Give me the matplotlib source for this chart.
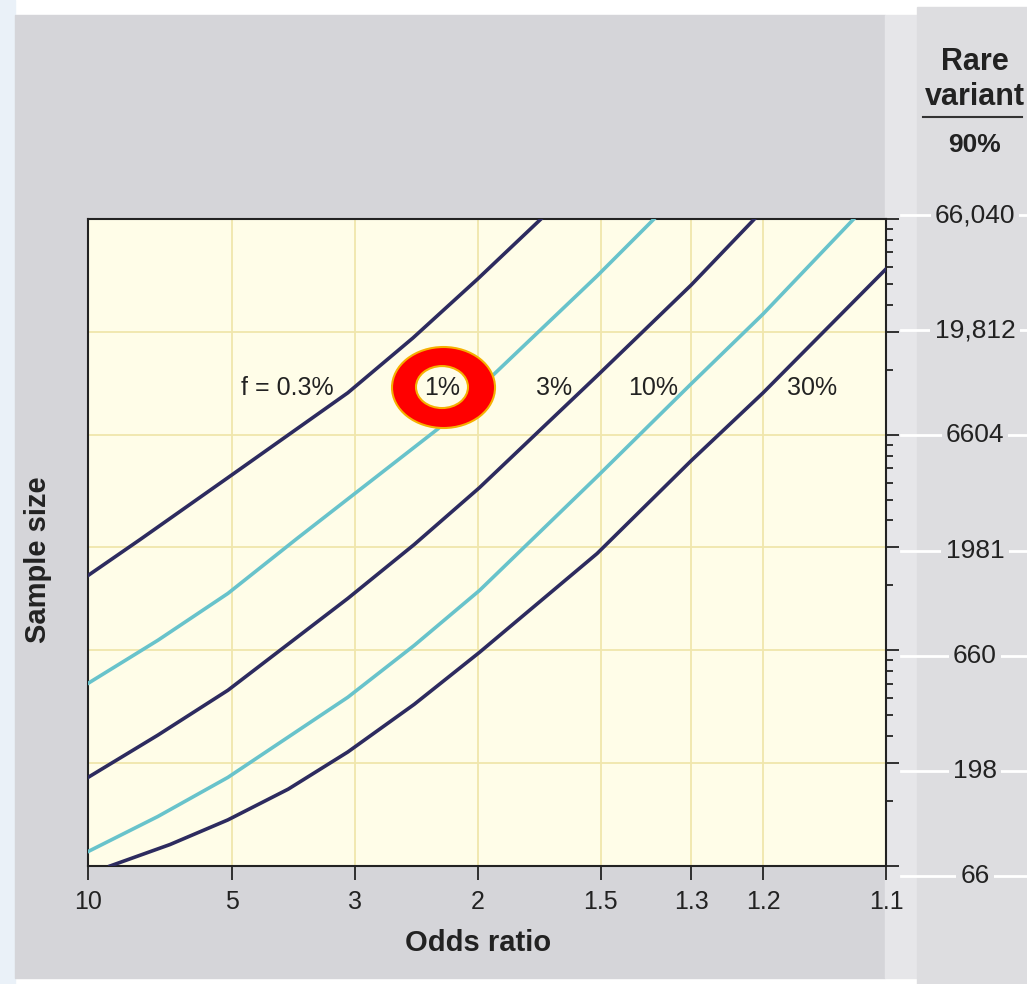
import numpy as np
import matplotlib.pyplot as plt
from matplotlib.patches import Ellipse, Rectangle
from matplotlib.lines import Line2D
from matplotlib.ticker import FixedLocator, NullFormatter

plt.rcParams['font.family'] = ['Liberation Sans', 'DejaVu Sans']

# curves: odds ratio vs sample size
or_03 = [10.0, 7.71, 5.09, 3.08, 2.44, 2.0, 1.70]
n_03 = [1468, 2155, 4171, 10325, 18559, 34822, 66040]
or_1 = [10.0, 7.07, 5.09, 3.77, 2.25, 1.91, 1.51, 1.37]
n_1 = [464, 735, 1212, 2178, 7036, 12648, 35944, 66040]
or_3 = [10.0, 7.07, 5.09, 3.08, 2.43, 1.99, 1.51, 1.30, 1.21]
n_3 = [170, 267, 431, 1149, 2044, 3750, 12377, 32644, 66040]
or_10 = [10.0, 7.07, 5.09, 3.08, 2.43, 1.99, 1.51, 1.30, 1.20, 1.12]
n_10 = [77, 112, 170, 400, 696, 1251, 4217, 11366, 23960, 66040]
or_30 = [8.95, 6.67, 5.09, 3.91, 3.08, 2.43, 1.99, 1.51, 1.30, 1.20, 1.1]
n_30 = [66, 83, 108, 150, 223, 371, 646, 1856, 5002, 10325, 38740]

curve_labels = ['f = 0.3%', '1%', '3%', '10%', '30%']
label_or = [3.93, 2.22, 1.65, 1.372, 1.152]
label_n = 10900

x_ticks = [10, 5, 3, 2, 1.5, 1.3, 1.2, 1.1]
x_labels = ['10', '5', '3', '2', '1.5', '1.3', '1.2', '1.1']
y_ticks = [66040, 19812, 6604, 1981, 660, 198, 66]
y_labels = ['66,040', '19,812', '6604', '1981', '660', '198', '66']

navy = '#2D2B5F'
cyan = '#68C3CB'
txt = '#222222'


def fwd(x):
    return np.log10(np.maximum(np.asarray(x, dtype=float) - 1, 1e-6))


def inv(x):
    return 10 ** np.asarray(x, dtype=float) + 1


fig = plt.figure(figsize=(10.27, 9.84), dpi=100)
fig.patch.set_facecolor('white')

# background panels
fig.add_artist(Rectangle((0, 0), 0.0146, 1, transform=fig.transFigure,
                         color='#EAF1F8', zorder=-5))
fig.add_artist(Rectangle((0.0146, 0.0061), 0.8471, 0.9787, transform=fig.transFigure,
                         color='#D5D5D9', zorder=-5))
fig.add_artist(Rectangle((0.8617, 0.0061), 0.0312, 0.9787, transform=fig.transFigure,
                         color='#E6E6E9', zorder=-5))
fig.add_artist(Rectangle((0.8929, 0), 0.1071, 0.9929, transform=fig.transFigure,
                         color='#DDDDE0', zorder=-5))

ax = fig.add_axes([0.0857, 0.1199, 0.7770, 0.6575])
ax.set_facecolor('#FFFDE8')
ax.set_yscale('log')
ax.set_xscale('function', functions=(fwd, inv))
ax.set_xlim(10, 1.1)
ax.set_ylim(66, 66040)

ax.plot(or_03, n_03, color=navy, lw=2.6, zorder=3)
ax.plot(or_1, n_1, color=cyan, lw=2.6, zorder=3)
ax.plot(or_3, n_3, color=navy, lw=2.6, zorder=3)
ax.plot(or_10, n_10, color=cyan, lw=2.6, zorder=3)
ax.plot(or_30, n_30, color=navy, lw=2.6, zorder=3)

ax.set_xticks(x_ticks)
ax.set_xticklabels(x_labels)
ax.xaxis.set_minor_locator(FixedLocator([]))

ax.yaxis.tick_right()
ax.set_yticks(y_ticks)
ax.set_yticklabels([])
minor = [66.04 * k * 10 ** n for n in range(3) for k in (2, 4, 5, 6, 7, 8, 9)]
ax.yaxis.set_minor_locator(FixedLocator(minor))
ax.yaxis.set_minor_formatter(NullFormatter())

ax.grid(True, which='major', color='#F0E6AC', lw=1.3)
ax.set_axisbelow(True)

ax.tick_params(axis='x', which='major', length=10, width=1.3, color=txt,
               labelsize=18, labelcolor=txt, pad=7)
ax.tick_params(axis='y', which='major', length=9, width=1.3, color=txt)
ax.tick_params(axis='y', which='minor', length=5, width=1.3, color=txt)
for s in ax.spines.values():
    s.set_linewidth(1.5)
    s.set_color(txt)

ax.set_xlabel('Odds ratio', fontsize=21, fontweight='bold', color=txt)
ax.xaxis.set_label_coords(0.489, -0.097)
ax.set_ylabel('Sample size', fontsize=21, fontweight='bold', color=txt)
ax.yaxis.set_label_position('left')
ax.yaxis.set_label_coords(-0.045, 0.473)

# curve labels
for lab, xo in zip(curve_labels, label_or):
    ax.text(xo, label_n, lab, fontsize=18, color=txt, ha='center', va='center', zorder=6)

# red ring around the 1% label
ax.add_patch(Ellipse((0.4455, 0.7396), 0.1291, 0.1252, transform=ax.transAxes,
                     facecolor='#FF0000', edgecolor='#F5B000', lw=1.5, zorder=4))
ax.add_patch(Ellipse((0.4436, 0.7403), 0.0652, 0.0649, transform=ax.transAxes,
                     facecolor='#FFFDE8', edgecolor='#F5B000', lw=1.5, zorder=5))

# right-hand column with sample sizes for 90% power
cax = fig.add_axes([0.8929, 0.1098, 0.1071, 0.6717])
cax.set_yscale('log')
cax.set_ylim(66, 66040)
cax.set_xlim(0, 1)
cax.axis('off')
for v, lab in zip(y_ticks, y_labels):
    cax.plot([-0.15, 1], [v, v], color='white', lw=2, clip_on=False)
    cax.text(0.527, v, lab, ha='center', va='center', fontsize=19, color=txt,
             bbox=dict(facecolor='#DDDDE0', edgecolor='none', pad=3))

fig.text(0.949, 0.937, 'Rare', fontsize=22, fontweight='bold', color=txt,
         ha='center', va='center')
fig.text(0.949, 0.901, 'variant', fontsize=22, fontweight='bold', color=txt,
         ha='center', va='center')
fig.add_artist(Line2D([0.899, 0.995], [0.881, 0.881], transform=fig.transFigure,
                      color='#333333', lw=1.5))
fig.text(0.949, 0.8526, '90%', fontsize=19, fontweight='bold', color=txt,
         ha='center', va='center')

fig.savefig('out.png', dpi=100)
